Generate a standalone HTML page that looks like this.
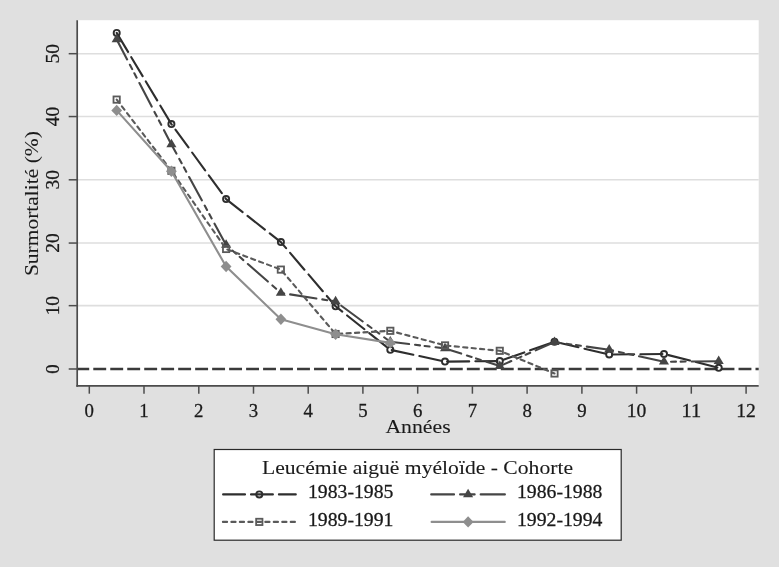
<!DOCTYPE html><html><head><meta charset="utf-8"><title>Surmortalité</title><style>html,body{margin:0;padding:0;background:#e0e0e0;}svg{display:block}</style></head><body>
<svg width="779" height="567" viewBox="0 0 779 567">
<rect width="779" height="567" fill="#e0e0e0"/>
<rect x="77.2" y="20.2" width="681.5" height="365.7" fill="#ffffff"/>
<line x1="77.2" x2="758.7" y1="53.7" y2="53.7" stroke="#dedede" stroke-width="1.6"/>
<line x1="77.2" x2="758.7" y1="116.55" y2="116.55" stroke="#dedede" stroke-width="1.6"/>
<line x1="77.2" x2="758.7" y1="179.8" y2="179.8" stroke="#dedede" stroke-width="1.6"/>
<line x1="77.2" x2="758.7" y1="243.05" y2="243.05" stroke="#dedede" stroke-width="1.6"/>
<line x1="77.2" x2="758.7" y1="305.65" y2="305.65" stroke="#dedede" stroke-width="1.6"/>
<line x1="77.2" x2="758.7" y1="369.0" y2="369.0" stroke="#3a3a3a" stroke-width="2.4" stroke-dasharray="12.9 4.08" stroke-dashoffset="0.9"/>
<polyline points="116.7,32.9 171.4,124.1 226.1,199.1 280.9,242.1 335.6,306.3 390.3,349.8 445.0,361.6 499.8,361.1 554.5,341.7 609.2,354.5 664.0,354.0 718.7,367.8" fill="none" stroke="#2e2e2e" stroke-width="2.1" stroke-dasharray="22.1 6.2" stroke-linecap="round" stroke-linejoin="round"/>
<circle cx="116.7" cy="32.9" r="3.05" fill="none" stroke="#2e2e2e" stroke-width="1.9"/>
<circle cx="171.4" cy="124.1" r="3.05" fill="none" stroke="#2e2e2e" stroke-width="1.9"/>
<circle cx="226.1" cy="199.1" r="3.05" fill="none" stroke="#2e2e2e" stroke-width="1.9"/>
<circle cx="280.9" cy="242.1" r="3.05" fill="none" stroke="#2e2e2e" stroke-width="1.9"/>
<circle cx="335.6" cy="306.3" r="3.05" fill="none" stroke="#2e2e2e" stroke-width="1.9"/>
<circle cx="390.3" cy="349.8" r="3.05" fill="none" stroke="#2e2e2e" stroke-width="1.9"/>
<circle cx="445.0" cy="361.6" r="3.05" fill="none" stroke="#2e2e2e" stroke-width="1.9"/>
<circle cx="499.8" cy="361.1" r="3.05" fill="none" stroke="#2e2e2e" stroke-width="1.9"/>
<circle cx="554.5" cy="341.7" r="3.05" fill="none" stroke="#2e2e2e" stroke-width="1.9"/>
<circle cx="609.2" cy="354.5" r="3.05" fill="none" stroke="#2e2e2e" stroke-width="1.9"/>
<circle cx="664.0" cy="354.0" r="3.05" fill="none" stroke="#2e2e2e" stroke-width="1.9"/>
<circle cx="718.7" cy="367.8" r="3.05" fill="none" stroke="#2e2e2e" stroke-width="1.9"/>
<polyline points="116.7,39.4 171.4,144.4 226.1,245.0 280.9,292.9 335.6,301.5 390.3,341.8 445.0,348.4 499.8,366.1 554.5,342.1 609.2,349.8 664.0,361.8 718.7,361.2" fill="none" stroke="#454545" stroke-width="2.1" stroke-dasharray="26.55 6.02 4.96 4.66 4.96 6.02" stroke-dashoffset="4.0" stroke-linecap="round" stroke-linejoin="round"/>
<path d="M116.7,33.7 L121.71,42.2 L111.61,42.2 Z" fill="#454545"/>
<path d="M171.4,138.7 L176.44,147.2 L166.34,147.2 Z" fill="#454545"/>
<path d="M226.1,239.3 L231.18,247.8 L221.07,247.8 Z" fill="#454545"/>
<path d="M280.9,287.2 L285.90,295.7 L275.80,295.7 Z" fill="#454545"/>
<path d="M335.6,295.8 L340.63,304.3 L330.53,304.3 Z" fill="#454545"/>
<path d="M390.3,336.1 L395.37,344.6 L385.26,344.6 Z" fill="#454545"/>
<path d="M445.0,342.7 L450.10,351.2 L440.00,351.2 Z" fill="#454545"/>
<path d="M499.8,360.4 L504.82,368.9 L494.72,368.9 Z" fill="#454545"/>
<path d="M554.5,336.4 L559.55,344.9 L549.46,344.9 Z" fill="#454545"/>
<path d="M609.2,344.1 L614.28,352.6 L604.18,352.6 Z" fill="#454545"/>
<path d="M664.0,356.1 L669.01,364.6 L658.91,364.6 Z" fill="#454545"/>
<path d="M718.7,355.5 L723.74,364.0 L713.64,364.0 Z" fill="#454545"/>
<polyline points="116.7,99.6 171.4,170.8 226.1,249.0 280.9,269.6 335.6,334.0 390.3,330.8 445.0,345.4 499.8,350.8 554.5,373.5" fill="none" stroke="#5a5a5a" stroke-width="2.1" stroke-dasharray="4.2 4.28" stroke-linecap="round" stroke-linejoin="round"/>
<rect x="113.51" y="96.45" width="6.3" height="6.3" fill="none" stroke="#5a5a5a" stroke-width="1.8"/>
<rect x="168.24" y="167.65" width="6.3" height="6.3" fill="none" stroke="#5a5a5a" stroke-width="1.8"/>
<rect x="222.97" y="245.85" width="6.3" height="6.3" fill="none" stroke="#5a5a5a" stroke-width="1.8"/>
<rect x="277.70" y="266.45" width="6.3" height="6.3" fill="none" stroke="#5a5a5a" stroke-width="1.8"/>
<rect x="332.44" y="330.85" width="6.3" height="6.3" fill="none" stroke="#5a5a5a" stroke-width="1.8"/>
<rect x="387.17" y="327.65" width="6.3" height="6.3" fill="none" stroke="#5a5a5a" stroke-width="1.8"/>
<rect x="441.90" y="342.25" width="6.3" height="6.3" fill="none" stroke="#5a5a5a" stroke-width="1.8"/>
<rect x="496.62" y="347.65" width="6.3" height="6.3" fill="none" stroke="#5a5a5a" stroke-width="1.8"/>
<rect x="551.36" y="370.35" width="6.3" height="6.3" fill="none" stroke="#5a5a5a" stroke-width="1.8"/>
<polyline points="116.7,110.4 171.4,171.3 226.1,266.5 280.9,319.3 335.6,334.2 390.3,342.9" fill="none" stroke="#8e8e8e" stroke-width="2.1" stroke-linecap="round" stroke-linejoin="round"/>
<path d="M116.7,104.7 L122.1,110.4 L116.7,116.1 L111.3,110.4 Z" fill="#8e8e8e"/>
<path d="M171.4,165.6 L176.8,171.3 L171.4,177.0 L166.0,171.3 Z" fill="#8e8e8e"/>
<path d="M226.1,260.8 L231.5,266.5 L226.1,272.2 L220.7,266.5 Z" fill="#8e8e8e"/>
<path d="M280.9,313.6 L286.3,319.3 L280.9,325.0 L275.5,319.3 Z" fill="#8e8e8e"/>
<path d="M335.6,328.5 L341.0,334.2 L335.6,339.9 L330.2,334.2 Z" fill="#8e8e8e"/>
<path d="M390.3,337.2 L395.7,342.9 L390.3,348.6 L384.9,342.9 Z" fill="#8e8e8e"/>
<line x1="77.2" x2="77.2" y1="20.2" y2="386.7" stroke="#4c4c4c" stroke-width="1.7"/>
<line x1="76.35000000000001" x2="758.7" y1="385.9" y2="385.9" stroke="#4c4c4c" stroke-width="1.7"/>
<line x1="89.3" x2="89.3" y1="385.9" y2="393.7" stroke="#4c4c4c" stroke-width="1.5"/>
<text x="89.3" y="416.9" font-family="Liberation Serif, serif" font-size="19.6" fill="#1a1a1a" stroke="#1a1a1a" stroke-width="0.28" text-anchor="middle" textLength="9.4" lengthAdjust="spacingAndGlyphs">0</text>
<line x1="144.0" x2="144.0" y1="385.9" y2="393.7" stroke="#4c4c4c" stroke-width="1.5"/>
<text x="144.0" y="416.9" font-family="Liberation Serif, serif" font-size="19.6" fill="#1a1a1a" stroke="#1a1a1a" stroke-width="0.28" text-anchor="middle" textLength="9.4" lengthAdjust="spacingAndGlyphs">1</text>
<line x1="198.8" x2="198.8" y1="385.9" y2="393.7" stroke="#4c4c4c" stroke-width="1.5"/>
<text x="198.8" y="416.9" font-family="Liberation Serif, serif" font-size="19.6" fill="#1a1a1a" stroke="#1a1a1a" stroke-width="0.28" text-anchor="middle" textLength="9.4" lengthAdjust="spacingAndGlyphs">2</text>
<line x1="253.5" x2="253.5" y1="385.9" y2="393.7" stroke="#4c4c4c" stroke-width="1.5"/>
<text x="253.5" y="416.9" font-family="Liberation Serif, serif" font-size="19.6" fill="#1a1a1a" stroke="#1a1a1a" stroke-width="0.28" text-anchor="middle" textLength="9.4" lengthAdjust="spacingAndGlyphs">3</text>
<line x1="308.2" x2="308.2" y1="385.9" y2="393.7" stroke="#4c4c4c" stroke-width="1.5"/>
<text x="308.2" y="416.9" font-family="Liberation Serif, serif" font-size="19.6" fill="#1a1a1a" stroke="#1a1a1a" stroke-width="0.28" text-anchor="middle" textLength="9.4" lengthAdjust="spacingAndGlyphs">4</text>
<line x1="362.9" x2="362.9" y1="385.9" y2="393.7" stroke="#4c4c4c" stroke-width="1.5"/>
<text x="362.9" y="416.9" font-family="Liberation Serif, serif" font-size="19.6" fill="#1a1a1a" stroke="#1a1a1a" stroke-width="0.28" text-anchor="middle" textLength="9.4" lengthAdjust="spacingAndGlyphs">5</text>
<line x1="417.7" x2="417.7" y1="385.9" y2="393.7" stroke="#4c4c4c" stroke-width="1.5"/>
<text x="417.7" y="416.9" font-family="Liberation Serif, serif" font-size="19.6" fill="#1a1a1a" stroke="#1a1a1a" stroke-width="0.28" text-anchor="middle" textLength="9.4" lengthAdjust="spacingAndGlyphs">6</text>
<line x1="472.4" x2="472.4" y1="385.9" y2="393.7" stroke="#4c4c4c" stroke-width="1.5"/>
<text x="472.4" y="416.9" font-family="Liberation Serif, serif" font-size="19.6" fill="#1a1a1a" stroke="#1a1a1a" stroke-width="0.28" text-anchor="middle" textLength="9.4" lengthAdjust="spacingAndGlyphs">7</text>
<line x1="527.1" x2="527.1" y1="385.9" y2="393.7" stroke="#4c4c4c" stroke-width="1.5"/>
<text x="527.1" y="416.9" font-family="Liberation Serif, serif" font-size="19.6" fill="#1a1a1a" stroke="#1a1a1a" stroke-width="0.28" text-anchor="middle" textLength="9.4" lengthAdjust="spacingAndGlyphs">8</text>
<line x1="581.9" x2="581.9" y1="385.9" y2="393.7" stroke="#4c4c4c" stroke-width="1.5"/>
<text x="581.9" y="416.9" font-family="Liberation Serif, serif" font-size="19.6" fill="#1a1a1a" stroke="#1a1a1a" stroke-width="0.28" text-anchor="middle" textLength="9.4" lengthAdjust="spacingAndGlyphs">9</text>
<line x1="636.6" x2="636.6" y1="385.9" y2="393.7" stroke="#4c4c4c" stroke-width="1.5"/>
<text x="636.6" y="416.9" font-family="Liberation Serif, serif" font-size="19.6" fill="#1a1a1a" stroke="#1a1a1a" stroke-width="0.28" text-anchor="middle" textLength="19.6" lengthAdjust="spacingAndGlyphs">10</text>
<line x1="691.3" x2="691.3" y1="385.9" y2="393.7" stroke="#4c4c4c" stroke-width="1.5"/>
<text x="691.3" y="416.9" font-family="Liberation Serif, serif" font-size="19.6" fill="#1a1a1a" stroke="#1a1a1a" stroke-width="0.28" text-anchor="middle" textLength="19.6" lengthAdjust="spacingAndGlyphs">11</text>
<line x1="746.1" x2="746.1" y1="385.9" y2="393.7" stroke="#4c4c4c" stroke-width="1.5"/>
<text x="746.1" y="416.9" font-family="Liberation Serif, serif" font-size="19.6" fill="#1a1a1a" stroke="#1a1a1a" stroke-width="0.28" text-anchor="middle" textLength="19.6" lengthAdjust="spacingAndGlyphs">12</text>
<line x1="68.7" x2="77.2" y1="53.7" y2="53.7" stroke="#4c4c4c" stroke-width="1.5"/>
<text transform="translate(59.2,53.7) rotate(-90)" font-family="Liberation Serif, serif" font-size="19.6" fill="#1a1a1a" stroke="#1a1a1a" stroke-width="0.28" text-anchor="middle" textLength="19.4" lengthAdjust="spacingAndGlyphs">50</text>
<line x1="68.7" x2="77.2" y1="116.55" y2="116.55" stroke="#4c4c4c" stroke-width="1.5"/>
<text transform="translate(59.2,116.55) rotate(-90)" font-family="Liberation Serif, serif" font-size="19.6" fill="#1a1a1a" stroke="#1a1a1a" stroke-width="0.28" text-anchor="middle" textLength="19.4" lengthAdjust="spacingAndGlyphs">40</text>
<line x1="68.7" x2="77.2" y1="179.8" y2="179.8" stroke="#4c4c4c" stroke-width="1.5"/>
<text transform="translate(59.2,179.8) rotate(-90)" font-family="Liberation Serif, serif" font-size="19.6" fill="#1a1a1a" stroke="#1a1a1a" stroke-width="0.28" text-anchor="middle" textLength="19.4" lengthAdjust="spacingAndGlyphs">30</text>
<line x1="68.7" x2="77.2" y1="243.05" y2="243.05" stroke="#4c4c4c" stroke-width="1.5"/>
<text transform="translate(59.2,243.05) rotate(-90)" font-family="Liberation Serif, serif" font-size="19.6" fill="#1a1a1a" stroke="#1a1a1a" stroke-width="0.28" text-anchor="middle" textLength="19.4" lengthAdjust="spacingAndGlyphs">20</text>
<line x1="68.7" x2="77.2" y1="305.65" y2="305.65" stroke="#4c4c4c" stroke-width="1.5"/>
<text transform="translate(59.2,305.65) rotate(-90)" font-family="Liberation Serif, serif" font-size="19.6" fill="#1a1a1a" stroke="#1a1a1a" stroke-width="0.28" text-anchor="middle" textLength="19.4" lengthAdjust="spacingAndGlyphs">10</text>
<line x1="68.7" x2="77.2" y1="369.0" y2="369.0" stroke="#4c4c4c" stroke-width="1.5"/>
<text transform="translate(59.2,369.0) rotate(-90)" font-family="Liberation Serif, serif" font-size="19.6" fill="#1a1a1a" stroke="#1a1a1a" stroke-width="0.28" text-anchor="middle" textLength="9.4" lengthAdjust="spacingAndGlyphs">0</text>
<text transform="translate(37.5,203.6) rotate(-90)" font-family="Liberation Serif, serif" font-size="19.6" fill="#1a1a1a" stroke="#1a1a1a" stroke-width="0.08" text-anchor="middle" textLength="145" lengthAdjust="spacingAndGlyphs">Surmortalité (%)</text>
<text x="418" y="432.8" font-family="Liberation Serif, serif" font-size="19.6" fill="#1a1a1a" stroke="#1a1a1a" stroke-width="0.08" text-anchor="middle" textLength="65.2" lengthAdjust="spacingAndGlyphs">Années</text>
<rect x="214.2" y="449.5" width="407" height="90.7" fill="#ffffff" stroke="#2a2a2a" stroke-width="1.2"/>
<text x="417.5" y="473.8" font-family="Liberation Serif, serif" font-size="19.6" fill="#1a1a1a" stroke="#1a1a1a" stroke-width="0.08" text-anchor="middle" textLength="311" lengthAdjust="spacingAndGlyphs">Leucémie aiguë myéloïde - Cohorte</text>
<line x1="223.1" x2="295.8" y1="494.4" y2="494.4" stroke="#2e2e2e" stroke-width="2.1" stroke-dasharray="21.9 6.0" stroke-linecap="round" stroke-linejoin="round"/>
<circle cx="259.3" cy="494.4" r="3.05" fill="none" stroke="#2e2e2e" stroke-width="1.9"/>
<line x1="222.9" x2="295.2" y1="521.9" y2="521.9" stroke="#5a5a5a" stroke-width="2.1" stroke-dasharray="4.2 4.28" stroke-linecap="round" stroke-linejoin="round"/>
<rect x="256.15" y="518.75" width="6.3" height="6.3" fill="none" stroke="#5a5a5a" stroke-width="1.8"/>
<line x1="431.2" x2="504.9" y1="494.4" y2="494.4" stroke="#454545" stroke-width="2.1" stroke-dasharray="26.55 6.02 4.96 4.66 4.96 6.02" stroke-dashoffset="3.7" stroke-linecap="round" stroke-linejoin="round"/>
<path d="M468.1,488.7 L473.15,497.2 L463.05,497.2 Z" fill="#454545"/>
<line x1="431.6" x2="504.8" y1="521.9" y2="521.9" stroke="#8e8e8e" stroke-width="2.1" stroke-linecap="round" stroke-linejoin="round"/>
<path d="M468.1,516.2 L473.5,521.9 L468.1,527.6 L462.7,521.9 Z" fill="#8e8e8e"/>
<text x="308" y="498.4" font-family="Liberation Serif, serif" font-size="19.6" fill="#1a1a1a" stroke="#1a1a1a" stroke-width="0.28" textLength="85.4" lengthAdjust="spacingAndGlyphs">1983-1985</text>
<text x="308" y="526.0" font-family="Liberation Serif, serif" font-size="19.6" fill="#1a1a1a" stroke="#1a1a1a" stroke-width="0.28" textLength="85.4" lengthAdjust="spacingAndGlyphs">1989-1991</text>
<text x="517" y="498.4" font-family="Liberation Serif, serif" font-size="19.6" fill="#1a1a1a" stroke="#1a1a1a" stroke-width="0.28" textLength="85.4" lengthAdjust="spacingAndGlyphs">1986-1988</text>
<text x="517" y="526.0" font-family="Liberation Serif, serif" font-size="19.6" fill="#1a1a1a" stroke="#1a1a1a" stroke-width="0.28" textLength="85.4" lengthAdjust="spacingAndGlyphs">1992-1994</text>
</svg></body></html>
